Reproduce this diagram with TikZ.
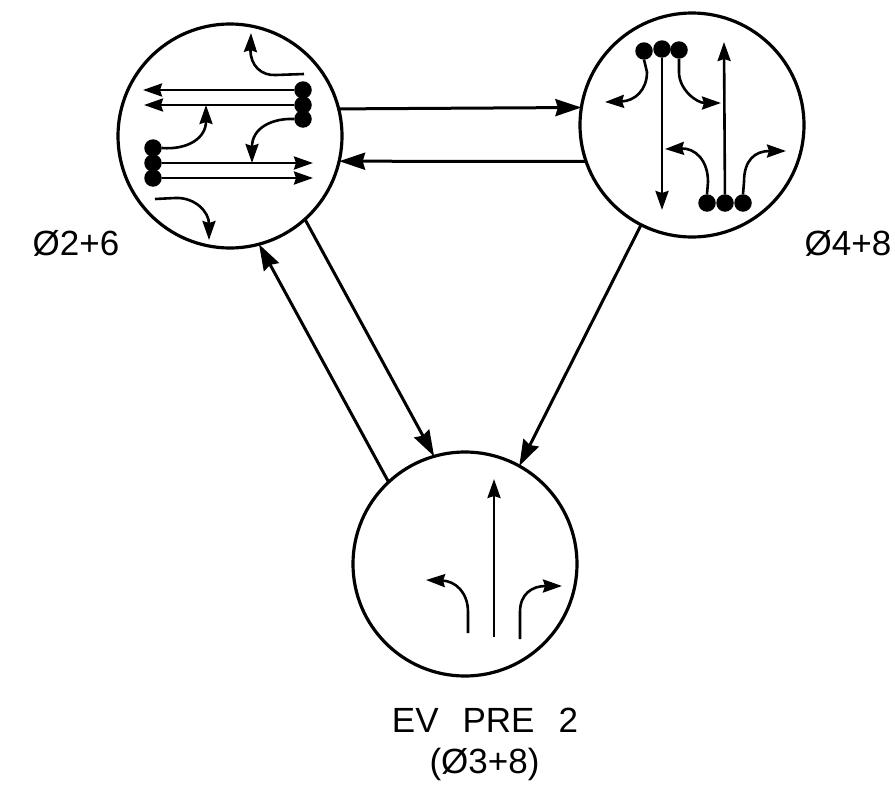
\documentclass[tikz,border=0pt]{standalone}
\usepackage{fontspec}
\setmainfont{Liberation Sans}
\usetikzlibrary{arrows.meta}
\tikzset{
  ring/.style={circle,draw=black,line width=3.2pt,minimum size=224pt,inner sep=0pt,outer sep=0pt},
  dotnode/.style={circle,fill=black,minimum size=17.5pt,inner sep=0pt,outer sep=0pt},
  link/.style={line width=3pt,-{Stealth[length=26pt,width=17pt,inset=2.5pt]}},
  move/.style={line width=2.6pt,-{Stealth[length=19pt,width=13pt,inset=2pt]}},
  lab/.style={inner sep=0pt,font=\fontsize{35}{38}\selectfont}
}
\begin{document}
\begin{tikzpicture}[x=1pt,y=-1pt]
\useasboundingbox (0,0) rectangle (895,787);
\node[ring] (A) at (230,136) {};
\node[ring] (B) at (692,125) {};
\node[ring] (C) at (465,564) {};
% links between phases
\draw[link] (A.14.5) -- (B.171.3);
\draw[link] (B.199.3) -- (A.-13.4);
\draw[link] (A.-48.2) -- (C.106);
\draw[link] (C.133) -- (A.-75);
\draw[link] (B.243.6) -- (C.61.8);
% phase A
\node[dotnode] (a1) at (303,90) {};
\node[dotnode] (a2) at (303,105) {};
\node[dotnode] (a3) at (303,119) {};
\node[dotnode] (a4) at (153,148) {};
\node[dotnode] (a5) at (153,163) {};
\node[dotnode] (a6) at (153,178) {};
\coordinate (ae1) at (143,90);
\coordinate (ae2) at (144,105);
\coordinate (ae5) at (313,163);
\coordinate (ae6) at (313,178);
\coordinate (at0) at (304,74);
\coordinate (at1) at (251,33);
\coordinate (ae4) at (206,105);
\coordinate (ae3) at (252,163);
\coordinate (ab0) at (155,199);
\coordinate (ab1) at (209,240);
\draw[move] (a1) -- (ae1);
\draw[move] (a2) -- (ae2);
\draw[move] (a5) -- (ae5);
\draw[move] (a6) -- (ae6);
\draw[move] (at0) -- (276,75) .. controls (262,76) and (250,66) .. (at1);
\draw[move] (a4.east) .. controls (188,150) and (206,138) .. (ae4);
\draw[move] (a3.west) .. controls (272,118) and (252,128) .. (ae3);
\draw[move] (ab0) -- (175,198) .. controls (195,197) and (209,212) .. (ab1);
% phase B
\node[dotnode] (b1) at (644,51) {};
\node[dotnode] (b2) at (662,49) {};
\node[dotnode] (b3) at (679,50) {};
\node[dotnode] (b4) at (707,203) {};
\node[dotnode] (b5) at (725,203) {};
\node[dotnode] (b6) at (743,203) {};
\coordinate (be1) at (605,102);
\coordinate (be2) at (662,210);
\coordinate (be3) at (721,103);
\coordinate (be4) at (665,149);
\coordinate (be5) at (724,42);
\coordinate (be6) at (786,151);
\draw[move] (b2) -- (be2);
\draw[move] (b5) -- (be5);
\draw[move] (b1.south) -- (647,72) .. controls (647,90) and (635,101) .. (be1);
\draw[move] (b3.south) -- (679,72) .. controls (679,90) and (697,103) .. (be3);
\draw[move] (b4.north) -- (708,182) .. controls (708,160) and (695,148) .. (be4);
\draw[move] (b6.north) -- (744,182) .. controls (744,160) and (755,151) .. (be6);
% phase C
\coordinate (c1) at (468,633);
\coordinate (c1e) at (426,580);
\coordinate (c2) at (494,637);
\coordinate (c2e) at (494,479);
\coordinate (c3) at (520,639);
\coordinate (c3e) at (562,586);
\draw[move] (c2) -- (c2e);
\draw[move] (c1) -- (468,612) .. controls (468,592) and (455,581) .. (c1e);
\draw[move] (c3) -- (520,612) .. controls (520,594) and (532,586) .. (c3e);
% labels
\node[lab] (la) at (76,243) {Ø2+6};
\node[lab] (lb) at (848,243) {Ø4+8};
\node[lab] (lc) at (485,720.5) {EV\hspace{24pt}PRE\hspace{24pt}2};
\node[lab] (ld) at (484.5,764) {(Ø3+8)};
\end{tikzpicture}
\end{document}
